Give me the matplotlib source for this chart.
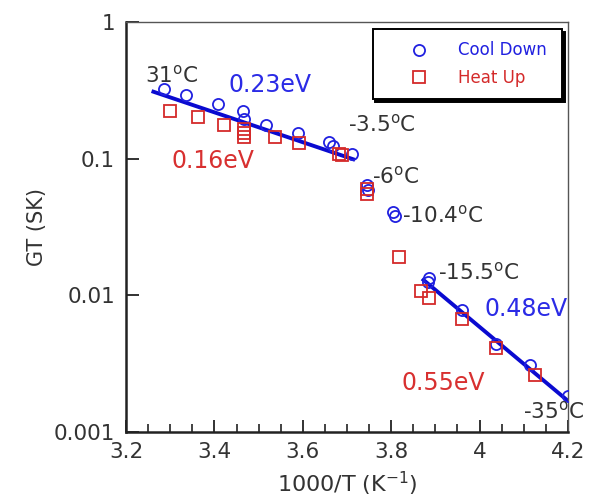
import numpy as np
import matplotlib.pyplot as plt
from matplotlib.ticker import FixedLocator, MultipleLocator, NullLocator

# Cooling run (1000/T, GT)
x_cool = [3.287, 3.336, 3.408, 3.464, 3.467, 3.516, 3.589, 3.660, 3.668, 3.712,
          3.745, 3.748, 3.805, 3.808, 3.886, 3.884, 3.961, 4.038, 4.113, 4.199]
g_cool = [0.322, 0.292, 0.250, 0.224, 0.194, 0.176, 0.155, 0.132, 0.124, 0.108,
          0.0642, 0.059, 0.041, 0.038, 0.0133, 0.0126, 0.0078, 0.00439, 0.0031, 0.00182]

# Heating run
x_heat = [3.300, 3.362, 3.421, 3.467, 3.467, 3.467, 3.537, 3.591, 3.683, 3.688,
          3.745, 3.745, 3.817, 3.867, 3.885, 3.961, 4.038, 4.125]
g_heat = [0.224, 0.201, 0.177, 0.165, 0.153, 0.145, 0.143, 0.131, 0.109, 0.107,
          0.060, 0.0549, 0.0192, 0.0108, 0.0095, 0.0067, 0.0041, 0.0026]

# Arrhenius fits (end points)
fit_hi_x = [3.262, 3.714]
fit_hi_g = [0.309, 0.099]
fit_lo_x = [3.873, 4.197]
fit_lo_g = [0.01296, 0.00172]

# Temperature marks and activation energies (left edge, baseline)
temp_labels = [(3.243, 0.364, r"31$^{\rm o}$C"),
               (3.702, 0.157, r"-3.5$^{\rm o}$C"),
               (3.757, 0.0664, r"-6$^{\rm o}$C"),
               (3.824, 0.0339, r"-10.4$^{\rm o}$C"),
               (3.906, 0.01297, r"-15.5$^{\rm o}$C"),
               (4.098, 0.00125, r"-35$^{\rm o}$C")]
ev_labels = [(3.431, 0.308, "0.23eV", "#2b2be6"),
             (3.304, 0.0855, "0.16eV", "#d83030"),
             (4.010, 0.00707, "0.48eV", "#2b2be6"),
             (3.824, 0.00203, "0.55eV", "#d83030")]

blue = "#2020e0"
red = "#d42a2a"

plt.rcParams['font.family'] = 'DejaVu Sans'

fig = plt.figure(figsize=(5.95, 4.99), dpi=100)
ax = fig.add_axes([0.2118, 0.1343, 0.7428, 0.8216])

ax.plot(fit_hi_x, fit_hi_g, color="#0a0ad0", lw=2.8, zorder=2)
ax.plot(fit_lo_x, fit_lo_g, color="#0a0ad0", lw=2.8, zorder=2)
ax.plot(x_cool, g_cool, 'o', mfc='none', mec=blue, ms=8, mew=1.3, zorder=3,
        label="Cool Down")
ax.plot(x_heat, g_heat, 's', mfc='none', mec=red, ms=8, mew=1.3, zorder=3,
        label="Heat Up")

for x, y, s in temp_labels:
    ax.text(x, y, s, fontsize=15.5, color="#333333", ha='left', va='baseline')
for x, y, s, c in ev_labels:
    ax.text(x, y, s, fontsize=17, color=c, ha='left', va='baseline')

ax.set_yscale('log')
ax.set_xlim(3.2, 4.2)
ax.set_ylim(0.001, 1)
ax.xaxis.set_major_locator(MultipleLocator(0.2))
ax.xaxis.set_minor_locator(MultipleLocator(0.05))
ax.xaxis.set_major_formatter(plt.FuncFormatter(lambda v, p: f"{v:g}"))
ax.yaxis.set_major_locator(FixedLocator([0.001, 0.01, 0.1, 1]))
ax.yaxis.set_minor_locator(NullLocator())
ax.yaxis.set_major_formatter(plt.FuncFormatter(lambda v, p: f"{v:g}"))
ax.tick_params(which='both', direction='in', labelsize=15.5, colors='#222222',
               labelcolor='#333333')
ax.tick_params(axis='y', which='major', length=9, width=1.3, pad=8)
ax.tick_params(axis='x', which='major', length=9, width=1.3, pad=7)
ax.tick_params(axis='x', which='minor', length=6, width=1.2)

for side in ['left', 'bottom']:
    ax.spines[side].set_linewidth(1.8)
    ax.spines[side].set_color('#222222')
for side in ['top', 'right']:
    ax.spines[side].set_linewidth(1.0)
    ax.spines[side].set_color('#555555')

ax.set_xlabel(r"1000/T (K$^{-1}$)", fontsize=16, color='#333333', labelpad=6)
ax.set_ylabel("GT (SK)", fontsize=15, color='#333333', labelpad=5)

leg = ax.legend(loc='upper left', bbox_to_anchor=(0.558, 0.816, 0.428, 0.166),
                mode='expand', borderaxespad=0,
                fontsize=12, frameon=True, fancybox=False, edgecolor='black',
                shadow={'color': 'black', 'alpha': 1}, borderpad=0.72,
                labelspacing=0.58, handletextpad=0.3, handlelength=4.1,
                markerscale=1.0)
leg.get_frame().set_linewidth(1.4)
for t, c in zip(leg.get_texts(), [blue, red]):
    t.set_color(c)

fig.savefig("out.png", dpi=100)
